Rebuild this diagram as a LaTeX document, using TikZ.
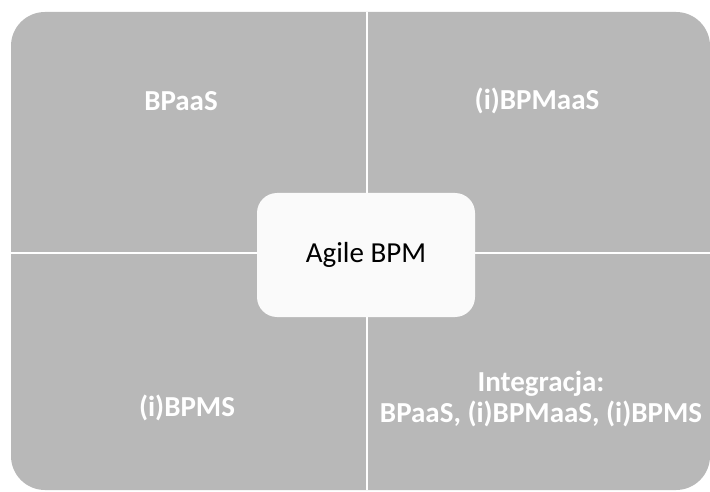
\documentclass[tikz,border=0pt]{standalone}
\usepackage{fontspec}
\setmainfont{Carlito}
\definecolor{quad}{HTML}{B8B8B8}
\definecolor{ctr}{HTML}{FAFAFA}
\begin{document}
\begin{tikzpicture}[x=1pt,y=1pt,
  quadlabel/.style={text=white,font=\fontsize{29}{31}\selectfont\bfseries,align=center,inner sep=0pt},
  centerbox/.style={fill=ctr,rounded corners=20pt,minimum width=218pt,minimum height=124pt,inner sep=0pt,font=\fontsize{29}{31}\selectfont}]
\useasboundingbox (0,0) rectangle (710,491);
\fill[white] (0,0) rectangle (710,491);
% outer gray area
\fill[quad,rounded corners=34pt] (11,1) rectangle (710,479);
% separators
\draw[white,line width=2.5pt] (367,1) -- (367,479);
\draw[white,line width=2.5pt] (11,238) -- (710,238);
% center
\node[centerbox] (c) at (366,236) {Agile BPM};
\node[quadlabel] (tl) at (181,390) {BPaaS};
\node[quadlabel] (tr) at (537,390) {(i)BPMaaS};
\node[quadlabel] (bl) at (187,83) {(i)BPMS};
\node[quadlabel] (br) at (541,92) {Integracja:\\BPaaS, (i)BPMaaS, (i)BPMS};
\end{tikzpicture}
\end{document}
